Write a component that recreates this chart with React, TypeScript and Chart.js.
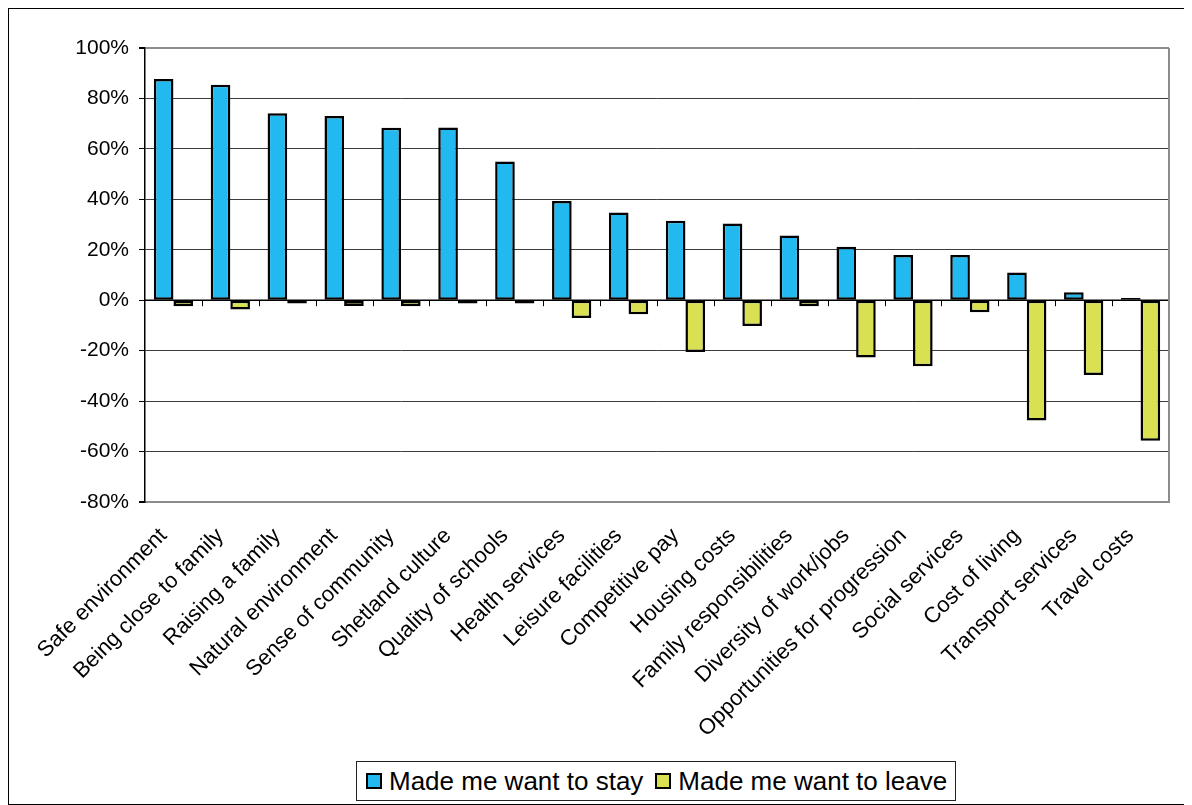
import React, { useEffect, useRef } from "react";
import { Chart, registerables } from "chart.js";

Chart.register(...registerables);

const categories = [
  "Safe environment",
  "Being close to family",
  "Raising a family",
  "Natural environment",
  "Sense of community",
  "Shetland culture",
  "Quality of schools",
  "Health services",
  "Leisure facilities",
  "Competitive pay",
  "Housing costs",
  "Family responsibilities",
  "Diversity of work/jobs",
  "Opportunities for progression",
  "Social services",
  "Cost of living",
  "Transport services",
  "Travel costs",
];

const stayValues = [87.7, 85.4, 74.1, 73.0, 68.4, 68.5, 55.0, 39.3, 34.8, 31.5, 30.4, 25.7, 21.2, 17.9, 17.9, 11.0, 3.2, 0.9];
const leaveValues = [-2.4, -3.7, -1.3, -2.3, -2.4, -1.3, -1.3, -7.0, -5.6, -20.5, -10.2, -2.4, -22.7, -26.2, -4.8, -47.7, -29.6, -55.7];

const seriesNames = ["Made me want to stay", "Made me want to leave"];
const seriesColors = ["#21b9ef", "#d9e152"];

const yMin = -80;
const yMax = 100;
const yStep = 20;

const FONT = "'Liberation Sans', Arial, sans-serif";

const framePlugin = {
  id: "frame",
  beforeDatasetsDraw(chart: any) {
    const { ctx, chartArea, scales } = chart;
    const x = scales.x;
    const y = scales.y;
    const y0 = y.getPixelForValue(0);
    ctx.save();
    ctx.strokeStyle = "#000";
    ctx.lineWidth = 1.5;
    ctx.beginPath();
    ctx.moveTo(chartArea.left, y0);
    ctx.lineTo(chartArea.right, y0);
    ctx.stroke();
    ctx.lineWidth = 1;
    for (let i = 1; i <= categories.length; i++) {
      const xa = x.getPixelForValue(i - 1);
      const step = i < categories.length ? x.getPixelForValue(i) - xa : xa - x.getPixelForValue(i - 2);
      const xb = Math.round(xa + step / 2) + 0.5;
      ctx.beginPath();
      ctx.moveTo(xb, y0);
      ctx.lineTo(xb, y0 + 6);
      ctx.stroke();
    }
    ctx.strokeStyle = "#8c8c8c";
    ctx.lineWidth = 2;
    ctx.beginPath();
    ctx.moveTo(chartArea.right, chartArea.top);
    ctx.lineTo(chartArea.right, chartArea.bottom);
    ctx.stroke();
    ctx.restore();
  },
};

export default function App() {
  const canvasRef = useRef<HTMLCanvasElement | null>(null);

  useEffect(() => {
    if (!canvasRef.current) return;
    const chart = new Chart(canvasRef.current, {
      type: "bar",
      data: {
        labels: categories,
        datasets: [
          {
            label: seriesNames[0],
            data: stayValues,
            backgroundColor: seriesColors[0],
            borderColor: "#000",
            borderWidth: 2.5,
            borderSkipped: false,
            categoryPercentage: 0.69,
            barPercentage: 1.0,
          },
          {
            label: seriesNames[1],
            data: leaveValues,
            backgroundColor: seriesColors[1],
            borderColor: "#000",
            borderWidth: 2.5,
            borderSkipped: false,
            categoryPercentage: 0.69,
            barPercentage: 1.0,
          },
        ],
      },
      plugins: [framePlugin],
      options: {
        animation: false,
        responsive: true,
        maintainAspectRatio: false,
        layout: { padding: { left: 0, top: 39, right: 20, bottom: 0 } },
        plugins: {
          legend: { display: false },
          tooltip: { enabled: false },
          title: { display: false },
        },
        scales: {
          x: {
            grid: { display: false },
            border: { display: true, color: "#8c8c8c", width: 2 },
            ticks: {
              autoSkip: false,
              minRotation: 45,
              maxRotation: 45,
              padding: 13,
              labelOffset: -10,
              color: "#000",
              font: { family: FONT, size: 22 },
            },
            afterFit(scale: any) {
              scale.height = 247;
            },
          },
          y: {
            min: yMin,
            max: yMax,
            ticks: {
              stepSize: yStep,
              padding: 10,
              color: "#000",
              font: { family: FONT, size: 21 },
              callback: (v: any) => `${v}%`,
            },
            grid: {
              color: (c: any) => {
                const v = c.tick?.value;
                if (v === yMax || v === yMin) return "#8c8c8c";
                return "#3c3c3c";
              },
              lineWidth: (c: any) => {
                const v = c.tick?.value;
                if (v === yMax || v === yMin) return 2;
                return 1;
              },
              tickColor: "#000",
              tickLength: 6,
              drawTicks: true,
            },
            border: { display: true, color: "#000", width: 1.5 },
            afterFit(scale: any) {
              scale.width = 136;
            },
          },
        },
      },
    });
    return () => chart.destroy();
  }, []);

  const legendItem = (i: number) => (
    <div style={{ display: "flex", alignItems: "center", marginRight: i === 0 ? 12 : 0 }}>
      <span
        style={{
          display: "inline-block",
          width: 12,
          height: 12,
          background: seriesColors[i],
          border: "2px solid #000",
          marginRight: 7,
        }}
      />
      <span>{seriesNames[i]}</span>
    </div>
  );

  return (
    <div
      style={{
        position: "relative",
        width: 1182,
        height: 797,
        border: "1px solid #000",
        boxSizing: "border-box",
        background: "#fff",
      }}
    >
      <div style={{ position: "absolute", left: 0, top: 0, width: 1180, height: 740 }}>
        <canvas ref={canvasRef} />
      </div>
      <div
        style={{
          position: "absolute",
          left: 347,
          top: 752,
          width: 600,
          height: 40,
          boxSizing: "border-box",
          border: "1px solid #222",
          display: "flex",
          alignItems: "center",
          paddingLeft: 9,
          fontFamily: FONT,
          fontSize: 26,
          color: "#000",
          whiteSpace: "nowrap",
        }}
      >
        {legendItem(0)}
        {legendItem(1)}
      </div>
    </div>
  );
}
